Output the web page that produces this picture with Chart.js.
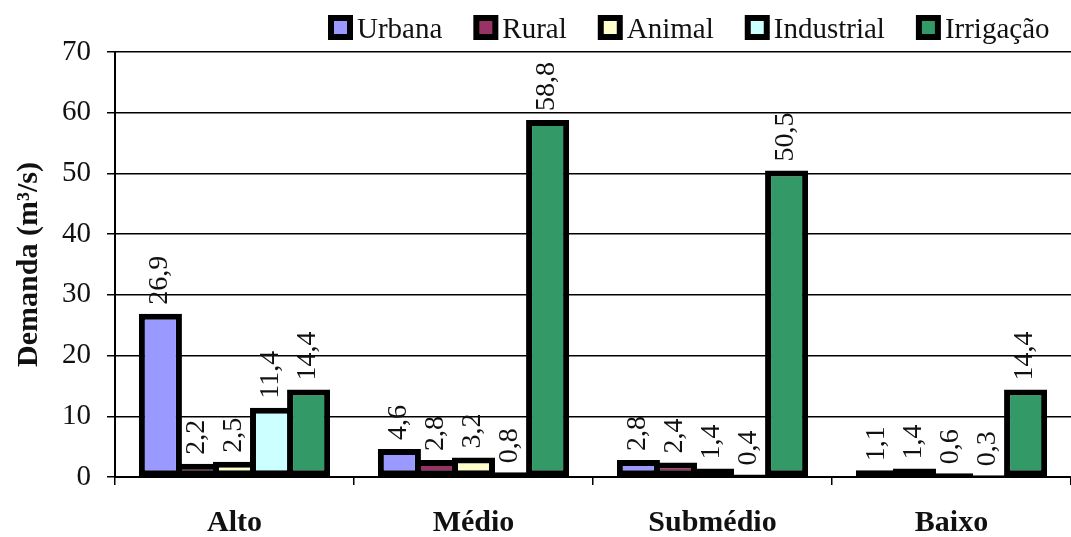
<!DOCTYPE html>
<html>
<head>
<meta charset="utf-8">
<script src="https://cdn.jsdelivr.net/npm/chart.js@4/dist/chart.umd.min.js"></script>
<style>
  body { margin: 0; background: #fff; }
  #wrap { width: 1071px; height: 537px; }
</style>
</head>
<body>
<div id="wrap"><canvas id="demandaChart" width="1071" height="537"></canvas></div>
<script>
// Demanda por região (m3/s)
const regions = ["Alto", "Médio", "Submédio", "Baixo"];
const seriesNames = ["Urbana", "Rural", "Animal", "Industrial", "Irrigação"];
const urbana = [26.9, 4.6, 2.8, 1.1];
const rural = [2.2, 2.8, 2.4, 1.4];
const animal = [2.5, 3.2, 1.4, 0.6];
const industrial = [11.4, 0.8, 0.4, 0.3];
const irrigacao = [14.4, 58.8, 50.5, 14.4];
const yTicks = [0, 10, 20, 30, 40, 50, 60, 70];

const colors = ["#9999FF", "#993366", "#FFFFCC", "#CCFFFF", "#339966"];
const serif = "'Liberation Serif', 'Times New Roman', serif";

// value labels, rotated, above each bar
const valueLabels = {
  id: "valueLabels",
  afterDatasetsDraw(chart) {
    const ctx = chart.ctx;
    ctx.save();
    ctx.font = "28px " + serif;
    ctx.fillStyle = "#111";
    ctx.textAlign = "left";
    ctx.textBaseline = "middle";
    chart.data.datasets.forEach((ds, i) => {
      chart.getDatasetMeta(i).data.forEach((bar, j) => {
        const txt = ds.data[j].toFixed(1).replace(".", ",");
        ctx.save();
        ctx.translate(bar.x - 1, bar.y - 9);
        ctx.rotate(-Math.PI / 2);
        ctx.fillText(txt, 0, 0);
        ctx.restore();
      });
    });
    ctx.restore();
  }
};

// legend drawn by hand, top right
const topLegend = {
  id: "topLegend",
  afterDraw(chart) {
    const ctx = chart.ctx;
    ctx.save();
    ctx.font = "29px " + serif;
    ctx.textBaseline = "alphabetic";
    ctx.textAlign = "left";
    let x = 328;
    chart.data.datasets.forEach(ds => {
      ctx.fillStyle = "#000";
      ctx.fillRect(x, 15, 25, 25);
      ctx.fillStyle = ds.backgroundColor;
      ctx.fillRect(x + 6, 21, 13, 13);
      ctx.fillStyle = "#111";
      ctx.fillText(ds.label, x + 29, 38);
      x += 29 + ctx.measureText(ds.label).width + 31;
    });
    ctx.restore();
  }
};

const allSeries = [urbana, rural, animal, industrial, irrigacao];

new Chart(document.getElementById("demandaChart"), {
  type: "bar",
  data: {
    labels: regions,
    datasets: allSeries.map((vals, i) => ({
      label: seriesNames[i],
      data: vals,
      backgroundColor: colors[i],
      borderColor: "#000",
      borderWidth: 6,
      borderSkipped: false,
      categoryPercentage: 0.775,
      barPercentage: 1.162
    }))
  },
  options: {
    responsive: false,
    animation: false,
    layout: { padding: { top: 52, right: 0, left: 0, bottom: 0 } },
    plugins: {
      legend: { display: false },
      tooltip: { enabled: false }
    },
    scales: {
      x: {
        afterFit(scale) { scale.height = 60; },
        grid: { drawOnChartArea: false, offset: true, tickLength: 8, color: "#000", lineWidth: 1.5 },
        border: { color: "#000", width: 2 },
        ticks: { color: "#111", padding: 20, font: { family: serif, size: 30, weight: "bold" } }
      },
      y: {
        min: 0,
        max: 70,
        afterFit(scale) { scale.width = 115; },
        afterBuildTicks(scale) { scale.ticks = yTicks.map(v => ({ value: v })); },
        grid: { color: "#000", lineWidth: 1.5, tickLength: 8 },
        border: { color: "#000", width: 2 },
        ticks: { color: "#111", padding: 16, font: { family: serif, size: 29 } },
        title: {
          display: true,
          text: "Demanda (m³/s)",
          color: "#111",
          padding: { top: 11, bottom: 0 },
          font: { family: serif, size: 30, weight: "bold" }
        }
      }
    }
  },
  plugins: [valueLabels, topLegend]
});
</script>
</body>
</html>
